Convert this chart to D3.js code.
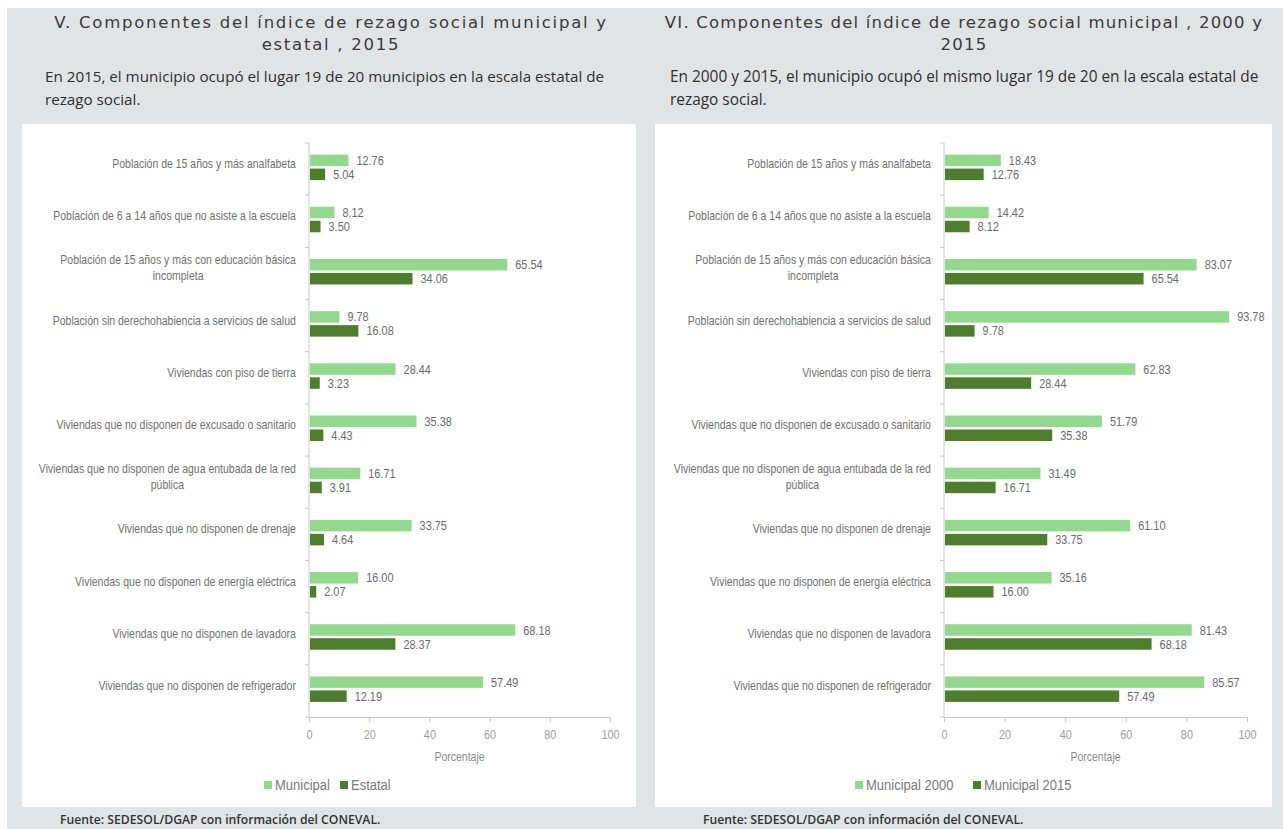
<!DOCTYPE html>
<html>
<head>
<meta charset="utf-8">
<script src="https://cdn.jsdelivr.net/npm/d3@7"></script>
<style>
  body { margin: 0; background: #fff; }
  svg text { font-family: "Liberation Sans", "Arimo", sans-serif; }
</style>
</head>
<body>
<div id="content"></div>
<script>
var width = 1283;
var height = 829;

// categorias (mismas para ambas graficas)
var categories = [
    "Población de 15 años y más analfabeta",
    "Población de 6 a 14 años que no asiste a la escuela",
    "Población de 15 años y más con educación básica incompleta",
    "Población sin derechohabiencia a servicios de salud",
    "Viviendas con piso de tierra",
    "Viviendas que no disponen de excusado o sanitario",
    "Viviendas que no disponen de agua entubada de la red pública",
    "Viviendas que no disponen de drenaje",
    "Viviendas que no disponen de energía eléctrica",
    "Viviendas que no disponen de lavadora",
    "Viviendas que no disponen de refrigerador"
];

var municipal2015 = [12.76, 8.12, 65.54, 9.78, 28.44, 35.38, 16.71, 33.75, 16.00, 68.18, 57.49];
var estatal2015 = [5.04, 3.50, 34.06, 16.08, 3.23, 4.43, 3.91, 4.64, 2.07, 28.37, 12.19];
var municipal2000 = [18.43, 14.42, 83.07, 93.78, 62.83, 51.79, 31.49, 61.10, 35.16, 81.43, 85.57];

var xTicks = [0, 20, 40, 60, 80, 100];

var lightGreen = "#92d98d";
var darkGreen = "#4f7d2e";

// la fuente original es condensada: se comprime horizontalmente
var narrow = 0.84;

var svg = d3.select("#content").append("svg").attr("width", width).attr("height", height);

// fondo gris
svg.append("rect").attr("x", 7).attr("y", 8).attr("width", width - 7).attr("height", height - 8).attr("fill", "#e1e4e5");

function condense(sel, k) {
    sel.each(function () {
        var t = d3.select(this);
        var x = +t.attr("x") || 0;
        var y = +t.attr("y") || 0;
        t.attr("transform", `translate(${x},${y}) scale(${k},1) translate(${-x},${-y})`);
    });
}

// parte la etiqueta en lineas; el bloque queda alineado a la derecha y las lineas centradas
function wrap(textSel, maxWidth, rightX) {
    textSel.each(function () {
        var text = d3.select(this);
        var words = text.text().split(/\s+/);
        text.text(null);
        var lines = [];
        var line = [];
        var tspan = text.append("tspan");
        var widest = 0;
        words.forEach(function (w) {
            line.push(w);
            tspan.text(line.join(" "));
            if (tspan.node().getComputedTextLength() > maxWidth && line.length > 1) {
                line.pop();
                tspan.text(line.join(" "));
                widest = Math.max(widest, tspan.node().getComputedTextLength());
                lines.push(line.join(" "));
                line = [w];
            }
            tspan.text(line.join(" "));
        });
        widest = Math.max(widest, tspan.node().getComputedTextLength());
        lines.push(line.join(" "));
        text.text(null);
        var cx = rightX - widest * narrow / 2;
        text.attr("x", cx).attr("text-anchor", "middle");
        var lh = 16;
        lines.forEach(function (l, i) {
            text.append("tspan")
                .attr("x", cx)
                .attr("dy", i === 0 ? (-(lines.length - 1) * lh / 2) + "px" : lh + "px")
                .text(l);
        });
    });
}

function drawPanel(opts) {
    var p = svg.append("g");

    p.append("rect")
        .attr("x", opts.panelX).attr("y", 124)
        .attr("width", opts.panelW).attr("height", 683)
        .attr("fill", "#fff");

    opts.title.forEach(function (t, i) {
        p.append("text")
            .attr("x", opts.titleX).attr("y", 28 + i * 22)
            .attr("text-anchor", "middle")
            .style("font-family", "'DejaVu Sans', sans-serif")
            .style("font-size", "16.5px")
            .style("letter-spacing", opts.titleLs + "px")
            .attr("fill", "#3a3a3a")
            .text(t);
    });

    opts.subtitle.forEach(function (t, i) {
        p.append("text")
            .attr("x", opts.subX).attr("y", 82 + i * 23)
            .style("font-family", "'Open Sans', sans-serif")
            .style("font-size", opts.subSize + "px")
            .attr("fill", "#2f2f2f")
            .text(t);
    });

    var xScale = d3.scaleLinear().domain([0, 100]).range([opts.axisX, opts.axisX + opts.axisW]);
    var yScale = d3.scaleBand().domain(categories).range([143, 717]);

    var chart = p.append("g");

    // eje y
    var yAxis = chart.append("g").attr("transform", `translate(${opts.axisX}, 0)`);
    yAxis.append("line")
        .attr("x1", 0).attr("x2", 0).attr("y1", 143).attr("y2", 717)
        .attr("stroke", "#c8c8c8");
    yAxis.selectAll(".ytick")
        .data(d3.range(categories.length + 1))
        .enter()
        .append("line")
        .attr("x1", -4).attr("x2", 0)
        .attr("y1", function (d) { return 143 + d * yScale.step(); })
        .attr("y2", function (d) { return 143 + d * yScale.step(); })
        .attr("stroke", "#c8c8c8");

    yAxis.selectAll(".ylabel")
        .data(categories)
        .enter()
        .append("text")
        .attr("y", function (d) { return yScale(d) + yScale.bandwidth() / 2 - 1; })
        .attr("dy", "0.35em")
        .style("font-size", "12.5px")
        .attr("fill", "#707070")
        .text(function (d) { return d; })
        .call(wrap, 268 / narrow, -13)
        .call(condense, narrow);

    // eje x
    var xAxis = d3.axisBottom(xScale).tickValues(xTicks).tickSize(5).tickSizeOuter(0).tickPadding(8);
    var xg = chart.append("g").attr("transform", `translate(0, 717)`).call(xAxis);
    xg.select(".domain").attr("stroke", "#c8c8c8");
    xg.selectAll(".tick line").attr("stroke", "#c8c8c8");
    xg.selectAll(".tick text")
        .style("font-family", "'Liberation Sans', sans-serif")
        .style("font-size", "13px")
        .attr("fill", "#a0a0a0")
        .call(condense, narrow);

    chart.append("text")
        .attr("x", xScale(50)).attr("y", 761)
        .attr("text-anchor", "middle")
        .style("font-size", "12.5px")
        .attr("fill", "#8a8a8a")
        .text("Porcentaje")
        .call(condense, narrow);

    var barH = 11.5;
    var series = [
        { values: opts.first, color: lightGreen, offset: -barH - 1 },
        { values: opts.second, color: darkGreen, offset: 1.5 }
    ];

    series.forEach(function (s) {
        var bars = chart.append("g");
        bars.selectAll("rect")
            .data(s.values)
            .enter()
            .append("rect")
            .attr("x", xScale(0) + 1)
            .attr("y", function (d, i) { return yScale(categories[i]) + yScale.bandwidth() / 2 - 2 + s.offset; })
            .attr("width", function (d) { return xScale(d) - xScale(0); })
            .attr("height", barH)
            .attr("fill", s.color);
        bars.selectAll("text")
            .data(s.values)
            .enter()
            .append("text")
            .attr("x", function (d) { return xScale(d) + 9; })
            .attr("y", function (d, i) { return yScale(categories[i]) + yScale.bandwidth() / 2 - 2 + s.offset + barH / 2; })
            .attr("dy", "0.35em")
            .style("font-size", "13px")
            .attr("fill", "#6a6a6a")
            .text(function (d) { return d.toFixed(2); })
            .call(condense, narrow);
    });

    // leyenda
    var legend = p.append("g").attr("transform", `translate(0, 785)`);
    opts.legend.forEach(function (name, i) {
        var lx = opts.legendX[i];
        legend.append("rect")
            .attr("x", lx).attr("y", -4)
            .attr("width", 8).attr("height", 8)
            .attr("fill", i === 0 ? lightGreen : darkGreen);
        legend.append("text")
            .attr("x", lx + 11).attr("y", 0)
            .attr("dy", "0.35em")
            .style("font-size", "15.5px")
            .attr("fill", "#7a7a7a")
            .text(name)
            .call(condense, narrow);
    });

    p.append("text")
        .attr("x", opts.footX).attr("y", 824)
        .style("font-family", "'Open Sans', sans-serif")
        .style("font-size", "12.2px")
        .style("font-weight", "600")
        .attr("fill", "#333")
        .text("Fuente: SEDESOL/DGAP con información del CONEVAL.");
}

drawPanel({
    panelX: 22, panelW: 614,
    titleX: 331, titleLs: 1.75,
    title: ["V. Componentes del índice de rezago social municipal y", "estatal , 2015"],
    subX: 45, subSize: 15.2,
    subtitle: ["En 2015, el municipio ocupó el lugar 19 de 20 municipios en la escala estatal de", "rezago social."],
    axisX: 309, axisW: 301,
    first: municipal2015, second: estatal2015,
    legend: ["Municipal", "Estatal"], legendX: [264, 340],
    footX: 60
});

drawPanel({
    panelX: 655, panelW: 617,
    titleX: 964, titleLs: 1.2,
    title: ["VI. Componentes del índice de rezago social municipal , 2000 y", "2015"],
    subX: 670, subSize: 15.4,
    subtitle: ["En 2000 y 2015, el municipio ocupó el mismo lugar 19 de 20 en la escala estatal de", "rezago social."],
    axisX: 944, axisW: 303,
    first: municipal2000, second: municipal2015,
    legend: ["Municipal 2000", "Municipal 2015"], legendX: [855, 973],
    footX: 703
});
</script>
</body>
</html>
